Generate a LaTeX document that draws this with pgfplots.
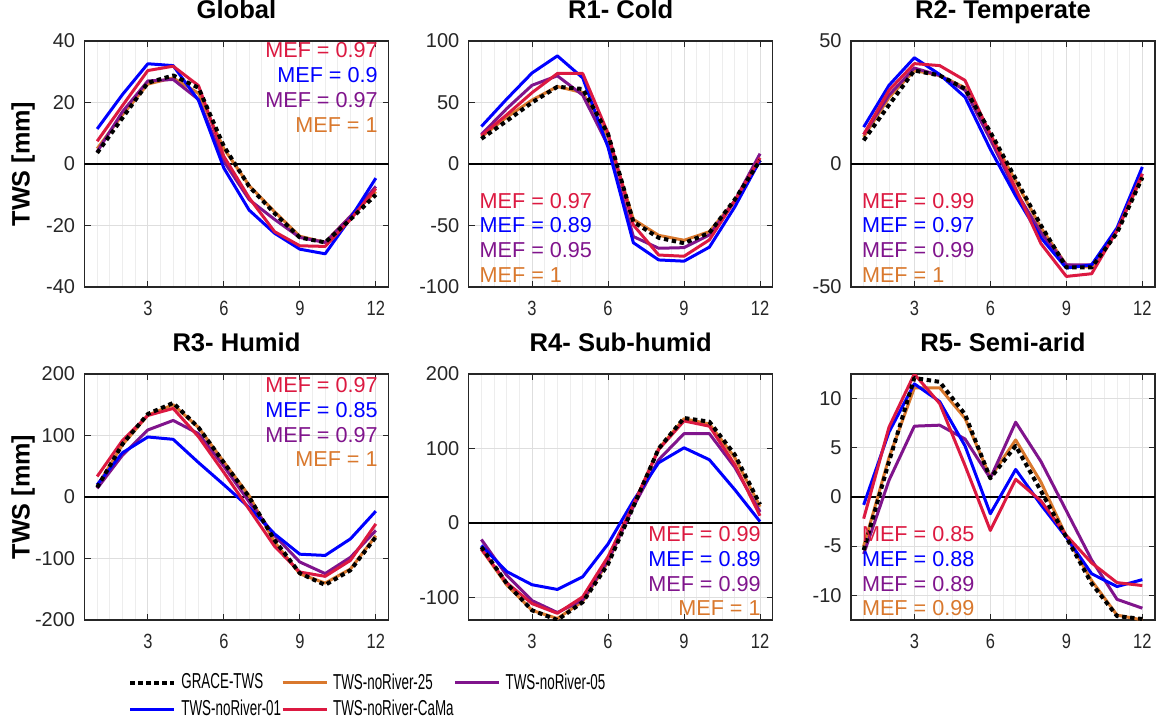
\documentclass[border=0pt]{standalone}
\usepackage{pgfplots}
\pgfplotsset{compat=1.18}
\usepackage{pgfplotstable}
\usepackage{graphicx}
\usepackage{fontspec}
\setmainfont{Liberation Sans}
\newcommand{\sx}[1]{\scalebox{0.8}[1]{#1}}
\newcommand{\lt}[1]{\fontsize{10.8}{13}\selectfont\scalebox{0.62}[1]{#1}}
\definecolor{c25}{RGB}{217,120,45}
\definecolor{c05}{RGB}{128,20,140}
\definecolor{c01}{RGB}{0,0,255}
\definecolor{cama}{RGB}{220,25,65}
\definecolor{axgray}{RGB}{38,38,38}

\pgfplotstableread{
m grace n25 n05 n01 cama
1 3.6 5 4 11.4 7.4
2 15 16 17 22.6 19
3 26.4 26 27 32.6 30.4
4 28.8 28 27.5 32 31.8
5 24.8 23 21 20.7 25.5
6 5.8 5 0.9 -1.3 2.5
7 -7.3 -7 -11.6 -15 -11
8 -16 -15.5 -18 -22.5 -22
9 -23.9 -23.5 -23.9 -27.7 -26.6
10 -25.5 -25.5 -25.5 -29.2 -26.8
11 -18 -17 -17 -17.6 -18
12 -10 -9 -7.3 -4.6 -8
}\tglobal

\pgfplotstableread{
m grace n25 n05 n01 cama
1 20.5 22 24 30.5 23
2 35 38 45 52.8 40
3 50 52 64 74 58
4 62.8 63 71.7 87.9 73.6
5 61 58 56 70 73.6
6 24.5 22 15 13.7 25
7 -47 -45 -59 -64 -49.6
8 -60 -58 -68.5 -78 -74
9 -64.4 -62 -68 -79 -75
10 -56 -55 -57.7 -67.6 -61.7
11 -29 -30 -30 -35 -30
12 3 3 8.4 3 5
}\tone

\pgfplotstableread{
m grace n25 n05 n01 cama
1 9.6 11 12 15 12
2 24 27 28 32 30
3 38 38 39 43.2 40.8
4 36 36 36 36.4 40
5 30.6 31 30 27.2 34
6 13 12 10 6 12
7 -6 -7 -11 -13 -10
8 -25 -26 -28 -30 -32.4
9 -42 -41 -41 -42.3 -45.7
10 -42 -42 -41 -41 -44.6
11 -28 -27 -27 -26 -27
12 -5.5 -5 -4 -1.2 -4
}\ttwo

\pgfplotstableread{
m grace n25 n05 n01 cama
1 15.6 18 14 20 33.4
2 86 85 68 72 92
3 135 133 109 97.6 132.6
4 153 150 124.5 93.8 144
5 113 113 103 56 98
6 56 57 50 20 40
7 0 2 -8 -17 -20
8 -70 -73 -62.5 -60 -80
9 -124 -125 -105.7 -93 -122
10 -143 -140 -124.5 -95 -129
11 -119 -117 -98 -68 -103
12 -65 -63 -54.4 -23 -43.7
}\tthree

\pgfplotstableread{
m grace n25 n05 n01 cama
1 -32 -35 -22 -30 -35
2 -81 -83 -70 -65 -80
3 -117 -117 -104 -82.7 -108
4 -130 -128 -120 -89 -121
5 -106 -105 -103 -72 -99
6 -55 -52 -50 -28 -45
7 22 24 22 30 25
8 100 100 85 81 98.7
9 141 140 120 101 137
10 136 133 120 85 130
11 92 88 75 45 78.7
12 25 22 15 2 9.8
}\tfour

\pgfplotstableread{
m grace n25 n05 n01 cama
1 -5.4 -5 -5.8 -0.8 -2.2
2 3.6 4 1.7 6.6 7.1
3 12.1 11.1 7.2 11.5 12.5
4 11.7 11.1 7.3 9.7 9.5
5 8.4 8 5.9 5.2 3.2
6 1.9 2 1.9 -1.7 -3.4
7 5.2 5.8 7.6 2.8 1.8
8 0.6 1.5 3.6 -0.8 -0.4
9 -4.1 -4 -1.4 -4.1 -3.9
10 -8.8 -8.5 -6.4 -7.8 -6.7
11 -12.1 -12 -10.4 -9.1 -8.7
12 -12.4 -12.5 -11.3 -8.4 -9
}\tfive

\pgfplotsset{
  panel/.style={
    scale only axis, width=152pt, height=123pt, anchor=south west,
    xmin=0.5, xmax=12.5, xtick={3,6,9,12},
    xticklabels={\sx{3},\sx{6},\sx{9},\sx{12}},
    minor xtick={1,1.5,...,12},
    xmajorgrids, xminorgrids, ymajorgrids,
    major grid style={draw=black!13, line width=0.4pt},
    minor grid style={draw=black!7, line width=0.4pt},
    axis line style={draw=axgray, line width=0.6pt},
    tick style={draw=axgray, line width=0.5pt},
    major tick length=3pt, minor tick length=0pt,
    tick align=inside,
    /pgf/number format/assume math mode=true,
    xticklabel style={font=\fontsize{10.3}{12}\selectfont, text=axgray, inner sep=0pt, anchor=north, yshift=-6.8pt},
    yticklabel style={font=\fontsize{10}{12}\selectfont, text=axgray, inner sep=0pt, anchor=east, xshift=-4.5pt},
    title style={font=\bfseries\fontsize{12.8}{14}\selectfont, at={(axis description cs:0.5,1)}, anchor=base, yshift=5.2pt},
    ylabel style={font=\bfseries\fontsize{12.6}{14}\selectfont, at={(axis description cs:-0.2023,0.5)}, anchor=center},
    every axis plot/.append style={line width=1.5pt, mark=none, line join=round},
  },
}

\newcommand{\series}[1]{%
  \draw[black, line width=0.6pt] (axis cs:0.5,0) -- (axis cs:12.5,0);
  \addplot[c25] table[x=m,y=n25]{#1};
  \addplot[c05] table[x=m,y=n05]{#1};
  \addplot[c01] table[x=m,y=n01]{#1};
  \addplot[cama] table[x=m,y=cama]{#1};
  \addplot[black, line width=2pt, dash pattern=on 2.2pt off 1.8pt] table[x=m,y=grace]{#1};
}

\newcommand{\mefblock}[7]{%
  \node[anchor=#1,text=cama,inner sep=0pt,font=\fontsize{10.8}{13}\selectfont] at (axis description cs:#2,#3) {MEF = #4};
  \node[anchor=#1,text=c01,inner sep=0pt,font=\fontsize{10.8}{13}\selectfont,yshift=-12.35pt] at (axis description cs:#2,#3) {MEF = #5};
  \node[anchor=#1,text=c05,inner sep=0pt,font=\fontsize{10.8}{13}\selectfont,yshift=-24.7pt] at (axis description cs:#2,#3) {MEF = #6};
  \node[anchor=#1,text=c25,inner sep=0pt,font=\fontsize{10.8}{13}\selectfont,yshift=-37.05pt] at (axis description cs:#2,#3) {MEF = #7};
}

\begin{document}
\begin{tikzpicture}
\useasboundingbox (0,0) rectangle (581pt,-361pt);

\begin{axis}[panel, at={(42.25pt,-143.5pt)}, ymin=-40, ymax=40, ytick={-40,-20,0,20,40}, title={Global}, ylabel={TWS [mm]}]
\series{\tglobal}
\mefblock{base east}{0.9655}{0.931}{0.97}{0.9}{0.97}{1}
\end{axis}

\begin{axis}[panel, at={(234.35pt,-143.5pt)}, ymin=-100, ymax=100, ytick={-100,-50,0,50,100}, title={R1- Cold}]
\series{\tone}
\mefblock{base west}{0.035}{0.320}{0.97}{0.89}{0.95}{1}
\end{axis}

\begin{axis}[panel, at={(425.5pt,-143.5pt)}, ymin=-50, ymax=50, ytick={-50,0,50}, title={R2- Temperate}]
\series{\ttwo}
\mefblock{base west}{0.035}{0.320}{0.99}{0.97}{0.99}{1}
\end{axis}

\begin{axis}[panel, at={(42.25pt,-310pt)}, ymin=-200, ymax=200, ytick={-200,-100,0,100,200}, title={R3- Humid}, ylabel={TWS [mm]},
  legend columns=3, legend cell align=left,
  legend style={at={(axis description cs:0.1431,-0.2033)}, anchor=north west, draw=none, fill=none, inner sep=0pt,
    row sep=1pt, column sep=0pt, font=\fontsize{10.8}{13}\selectfont,
    /tikz/every odd column/.append style={column sep=2.5pt},
    /tikz/every even column/.append style={column sep=0pt},
    /tikz/column 4/.style={column sep=4.5pt},
    nodes={inner xsep=0pt, inner ysep=1.5pt, font=\fontsize{10.8}{13}\selectfont}},
  legend image code/.code={\draw[#1] (0pt,0pt) -- (22pt,0pt);},
]
\addlegendimage{black, line width=2pt, dash pattern=on 2.2pt off 1.8pt}
\addlegendentry{\lt{GRACE-TWS}}
\addlegendimage{c25, line width=1.5pt}
\addlegendentry{\lt{TWS-noRiver-25}}
\addlegendimage{c05, line width=1.5pt}
\addlegendentry{\lt{TWS-noRiver-05}}
\addlegendimage{c01, line width=1.5pt}
\addlegendentry{\lt{TWS-noRiver-01}}
\addlegendimage{cama, line width=1.5pt}
\addlegendentry{\lt{TWS-noRiver-CaMa}}
\series{\tthree}
\mefblock{base east}{0.9655}{0.924}{0.97}{0.85}{0.97}{1}
\end{axis}

\begin{axis}[panel, at={(234.35pt,-310pt)}, ymin=-130, ymax=200, ytick={-100,0,100,200}, title={R4- Sub-humid}]
\series{\tfour}
\mefblock{base east}{0.9615}{0.318}{0.99}{0.89}{0.99}{1}
\end{axis}

\begin{axis}[panel, at={(425.5pt,-310pt)}, ymin=-12.5, ymax=12.5, ytick={-10,-5,0,5,10}, title={R5- Semi-arid}]
\series{\tfive}
\mefblock{base west}{0.035}{0.318}{0.85}{0.88}{0.89}{0.99}
\end{axis}
\end{tikzpicture}
\end{document}
